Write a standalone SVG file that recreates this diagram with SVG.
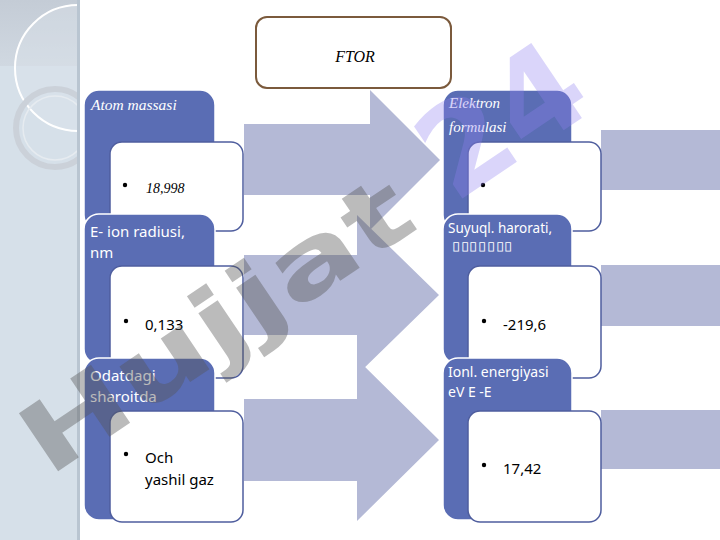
<svg xmlns="http://www.w3.org/2000/svg" width="720" height="540" viewBox="0 0 720 540">
<defs>
<style>
.blue{fill:#5a6db4;stroke:#ffffff;stroke-width:1.5}
.card{fill:#ffffff;stroke:#4f5e9e;stroke-width:1.5}
.arrow{fill:#b4b9d6}
.it{font-family:"Liberation Serif",serif;font-style:italic}
.sans{font-family:"Noto Sans","Open Sans",sans-serif}
.hdr{fill:#ffffff}
.val{fill:#000000}
</style>
<clipPath id="panel"><rect x="0" y="0" width="79" height="540"/></clipPath>
<linearGradient id="band" x1="0" y1="0" x2="0" y2="1">
<stop offset="0" stop-color="#c4ccd6"/>
<stop offset="1" stop-color="#d0d8e1"/>
</linearGradient>
</defs>
<rect x="0" y="0" width="720" height="540" fill="#ffffff"/>
<g id="background">
<rect x="0" y="0" width="79" height="540" fill="#d6e0e9"/>
<rect x="0" y="0" width="79" height="66" fill="url(#band)"/>
<g clip-path="url(#panel)">
<circle cx="78" cy="68" r="63" fill="#dde4ec" fill-opacity="0.4" stroke="#ffffff" stroke-width="2"/>
<circle cx="55" cy="128" r="39" fill="none" stroke="#cbd1d9" stroke-width="6"/>
<circle cx="55" cy="128" r="32" fill="none" stroke="#e6ebf0" stroke-width="1.5"/>
</g>
<rect x="77" y="0" width="3" height="540" fill="#b9c5d1"/>
</g>
<g id="connectors">
<path class="arrow" d="M244,124 H370 V90 L440,160 L370,230 V195 H244 Z"/>
<path class="arrow" d="M244,255 H357 V215 L439,295 L357,375 V335 H244 Z"/>
<path class="arrow" d="M244,399 H357 V359 L439,440 L357,521 V481 H244 Z"/>
<rect class="arrow" x="601" y="130" width="119" height="60"/>
<rect class="arrow" x="601" y="265" width="119" height="61"/>
<rect class="arrow" x="601" y="410" width="119" height="59"/>
</g>
<g id="title">
<rect x="256" y="17" width="195" height="71" rx="11" fill="#ffffff" stroke="#7b5a3c" stroke-width="2"/>
<text x="355" y="62" class="it" font-size="16" text-anchor="middle" fill="#000">FTOR</text>
</g>
<g id="node-atom-massasi">
<rect class="blue" x="84" y="90" width="131" height="140" rx="15"/>
<rect class="card" x="110" y="142" width="133" height="89" rx="12"/>
<text x="91" y="110" class="it hdr" font-size="15.5">Atom massasi</text>
<circle cx="125" cy="185" r="2.2" fill="#000"/>
<text x="146" y="193" class="it val" font-size="14">18,998</text>
</g>
<g id="node-ion-radiusi">
<rect class="blue" x="84" y="214" width="131" height="150" rx="15"/>
<rect class="card" x="110" y="266" width="133" height="112" rx="12"/>
<text x="90" y="237" class="sans hdr" font-size="15">E- ion radiusi,</text>
<text x="90" y="258" class="sans hdr" font-size="15">nm</text>
<circle cx="126" cy="321" r="2.2" fill="#000"/>
<text x="145" y="330" class="sans val" font-size="15">0,133</text>
</g>
<g id="node-odatdagi">
<rect class="blue" x="84" y="358" width="131" height="162" rx="15"/>
<rect class="card" x="110" y="411" width="133" height="111" rx="12"/>
<text x="90" y="381" class="sans hdr" font-size="15">Odatdagi</text>
<text x="90" y="402" class="sans hdr" font-size="15">sharoitda</text>
<circle cx="126" cy="454" r="2.2" fill="#000"/>
<text x="145" y="463" class="sans val" font-size="15">Och</text>
<text x="145" y="485" class="sans val" font-size="15">yashil gaz</text>
</g>
<g id="node-elektron-formulasi">
<rect class="blue" x="443" y="90" width="129" height="140" rx="15"/>
<rect class="card" x="468" y="142" width="133" height="89" rx="12"/>
<text x="449" y="108" class="it hdr" font-size="15">Elektron</text>
<text x="449" y="132" class="it hdr" font-size="15">formulasi</text>
<circle cx="483" cy="185" r="2.2" fill="#000"/>
</g>
<g id="node-suyuql-harorati">
<rect class="blue" x="443" y="214" width="129" height="150" rx="15"/>
<rect class="card" x="468" y="266" width="133" height="112" rx="12"/>
<text x="448" y="233" class="sans hdr" font-size="13.5">Suyuql. harorati,</text>
<text x="452" y="250" class="sans hdr" font-size="11.5" textLength="61" lengthAdjust="spacingAndGlyphs">▯▯▯▯▯▯▯</text>
<circle cx="484" cy="321" r="2.2" fill="#000"/>
<text x="503" y="330" class="sans val" font-size="15">-219,6</text>
</g>
<g id="node-ionl-energiyasi">
<rect class="blue" x="443" y="358" width="129" height="162" rx="15"/>
<rect class="card" x="468" y="411" width="133" height="111" rx="12"/>
<text x="448" y="377" class="sans hdr" font-size="14">Ionl. energiyasi</text>
<text x="448" y="397" class="sans hdr" font-size="14">eV E -E</text>
<circle cx="484" cy="465" r="2.2" fill="#000"/>
<text x="503" y="474" class="sans val" font-size="15">17,42</text>
</g>
<g id="watermark">
<text transform="translate(48,478) rotate(-34)" font-family="DejaVu Sans,sans-serif" font-weight="bold" font-size="96"><tspan fill="#555555" fill-opacity="0.4" textLength="450" lengthAdjust="spacingAndGlyphs">Hujjat</tspan><tspan dx="40" font-size="124" fill="#9080f0" fill-opacity="0.33">24</tspan></text>
</g>
</svg>
